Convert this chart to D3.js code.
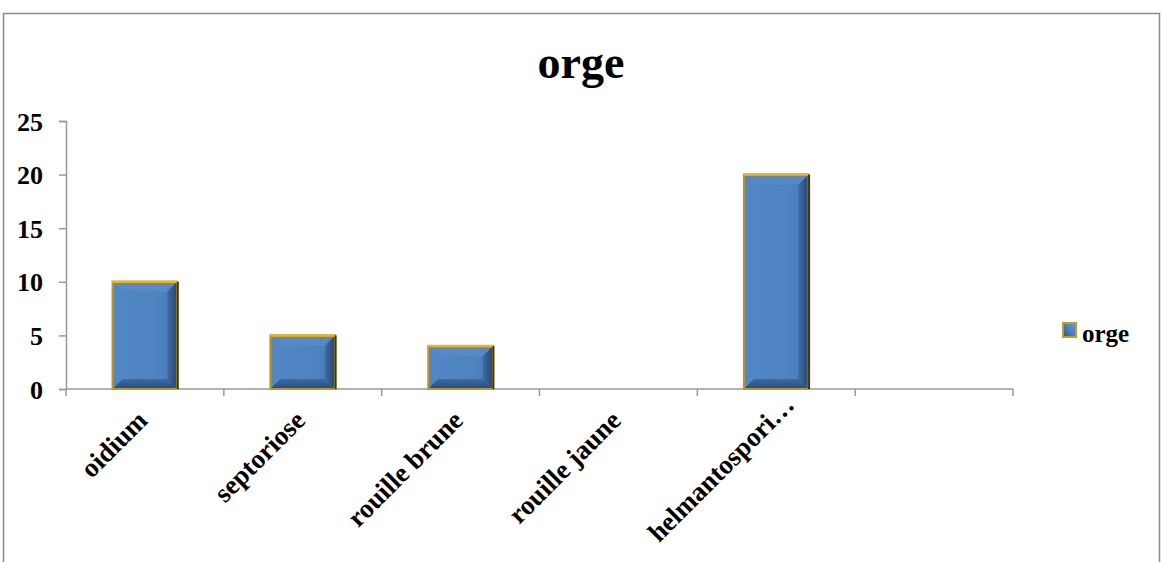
<!DOCTYPE html>
<html>
<head>
<meta charset="utf-8">
<script src="https://cdn.jsdelivr.net/npm/d3@7"></script>
<style>
  html, body { margin: 0; padding: 0; background: #fff; }
  svg { display: block; }
  text { font-family: "Liberation Serif", "Times New Roman", serif; font-weight: bold; fill: #000; }
</style>
</head>
<body>
<svg id="chart" width="1162" height="562"></svg>
<script>
const chartTitle = "orge";
const categories = ["oidium", "septoriose", "rouille brune", "rouille jaune", "helmantospori\u2026", ""];
const values = [10, 5, 4, 0, 20, null];
const yTicks = [0, 5, 10, 15, 20, 25];
const seriesName = "orge";

const svg = d3.select("#chart");

// frame
svg.append("rect").attr("x", 3.5).attr("y", 13.5).attr("width", 1156).attr("height", 560)
  .attr("fill", "#fff").attr("stroke", "#8c8c8c").attr("stroke-width", 1.5);

const plot = { left: 66, right: 1013, top: 121, bottom: 389 };

const x = d3.scaleBand().domain(categories.map((c, i) => i)).range([plot.left, plot.right])
  .paddingInner(0.59).paddingOuter(0.295);
const xTickScale = d3.scaleBand().domain(categories.map((c, i) => i)).range([plot.left, plot.right]);
const y = d3.scaleLinear().domain([0, 25]).range([plot.bottom, plot.top]);

// defs: gradients
const defs = svg.append("defs");
function lin(id, x1, y1, x2, y2, stops) {
  const g = defs.append("linearGradient").attr("id", id)
    .attr("x1", x1).attr("y1", y1).attr("x2", x2).attr("y2", y2);
  stops.forEach(s => g.append("stop").attr("offset", s[0]).attr("stop-color", s[1]));
}
lin("face", 0, 0, 1, 0, [[0, "#5187c6"], [0.7, "#4e83c1"], [1, "#4779b4"]]);
lin("rightB", 0, 0, 1, 0, [[0, "#3f6aa0"], [1, "#2a4670"]]);
lin("bottomB", 0, 0, 0, 1, [[0, "#3f6aa0"], [1, "#2b4a78"]]);
lin("legSq", 0, 1, 1, 0, [[0, "#2f5488"], [0.5, "#4a7fc0"], [1, "#6b9ad3"]]);

// title
svg.append("text").attr("x", 581).attr("y", 78).attr("text-anchor", "middle")
  .style("font-size", "46px").text(chartTitle);

// y axis
const yAxis = svg.append("g").attr("transform", `translate(${plot.left},0)`)
  .call(d3.axisLeft(y).tickValues(yTicks).tickSize(7).tickPadding(16));
yAxis.select(".domain").attr("stroke", "#9a9a9a").attr("stroke-width", 1.5);
yAxis.selectAll(".tick line").attr("stroke", "#9a9a9a").attr("stroke-width", 1.5);
yAxis.selectAll(".tick text").style("font-size", "26px").attr("dy", "0.35em")
  .style("font-family", "'Liberation Serif', serif").style("font-weight", "bold");

// x axis line & ticks
const xAxis = svg.append("g").attr("transform", `translate(0,${plot.bottom})`);
xAxis.append("line").attr("x1", plot.left).attr("x2", plot.right).attr("y1", 0).attr("y2", 0)
  .attr("stroke", "#9a9a9a").attr("stroke-width", 1.5);
const tickPos = categories.map((c, i) => xTickScale(i)).concat([plot.right]);
xAxis.selectAll("line.tk").data(tickPos).enter().append("line").attr("class", "tk")
  .attr("x1", d => d).attr("x2", d => d).attr("y1", 0).attr("y2", 7)
  .attr("stroke", "#9a9a9a").attr("stroke-width", 1.5);

// category labels (truncated labels sit a little further along their direction)
svg.append("g").selectAll("text").data(categories).enter().append("text")
  .attr("transform", (d, i) => `translate(${xTickScale(i) + xTickScale.bandwidth() / 2 + 4},${plot.bottom + 33}) rotate(-45)`)
  .attr("x", d => d.endsWith("\u2026") ? 22 : 0)
  .attr("text-anchor", "end")
  .style("font-size", "27px")
  .text(d => d);

// bars with bevel
const bev = 10;
const barData = values.map((v, i) => ({ i, v })).filter(d => d.v !== null && d.v > 0);
const bars = svg.append("g").selectAll("g").data(barData).enter().append("g");
bars.each(function (d) {
  const g = d3.select(this);
  const x0 = x(d.i), x1 = x(d.i) + x.bandwidth();
  const y0 = y(d.v), y1 = y(0);
  const b = Math.min(bev, (y1 - y0) / 2);
  g.append("rect").attr("x", x0).attr("y", y0).attr("width", x1 - x0).attr("height", y1 - y0)
    .attr("fill", "url(#face)");
  const poly = (pts, fill) => g.append("polygon").attr("points", pts.map(p => p.join(",")).join(" ")).attr("fill", fill);
  poly([[x0, y0], [x1, y0], [x1 - b, y0 + b], [x0 + b, y0 + b]], "#5889c5");
  poly([[x0, y0], [x0 + b, y0 + b], [x0 + b, y1 - b], [x0, y1]], "#5286c4");
  poly([[x1, y0], [x1, y1], [x1 - b, y1 - b], [x1 - b, y0 + b]], "url(#rightB)");
  poly([[x0, y1], [x0 + b, y1 - b], [x1 - b, y1 - b], [x1, y1]], "url(#bottomB)");
  // gold border
  g.append("rect").attr("x", x0).attr("y", y0).attr("width", x1 - x0).attr("height", y1 - y0)
    .attr("fill", "none").attr("stroke", "#bf961f").attr("stroke-width", 2);
  g.append("line").attr("x1", x0).attr("x2", x1).attr("y1", y0).attr("y2", y0)
    .attr("stroke", "#e8b420").attr("stroke-width", 2.5);
  g.append("line").attr("x1", x1 + 0.5).attr("x2", x1 + 0.5).attr("y1", y0).attr("y2", y1)
    .attr("stroke", "#3e3310").attr("stroke-width", 2);
});

// legend
const leg = svg.append("g").attr("transform", "translate(1063,323)");
leg.append("rect").attr("x", 0).attr("y", 0).attr("width", 13).attr("height", 14)
  .attr("fill", "url(#legSq)").attr("stroke", "#c49a22").attr("stroke-width", 2);
leg.append("text").attr("x", 19).attr("y", 19).style("font-size", "25px").text(seriesName);
</script>
</body>
</html>
